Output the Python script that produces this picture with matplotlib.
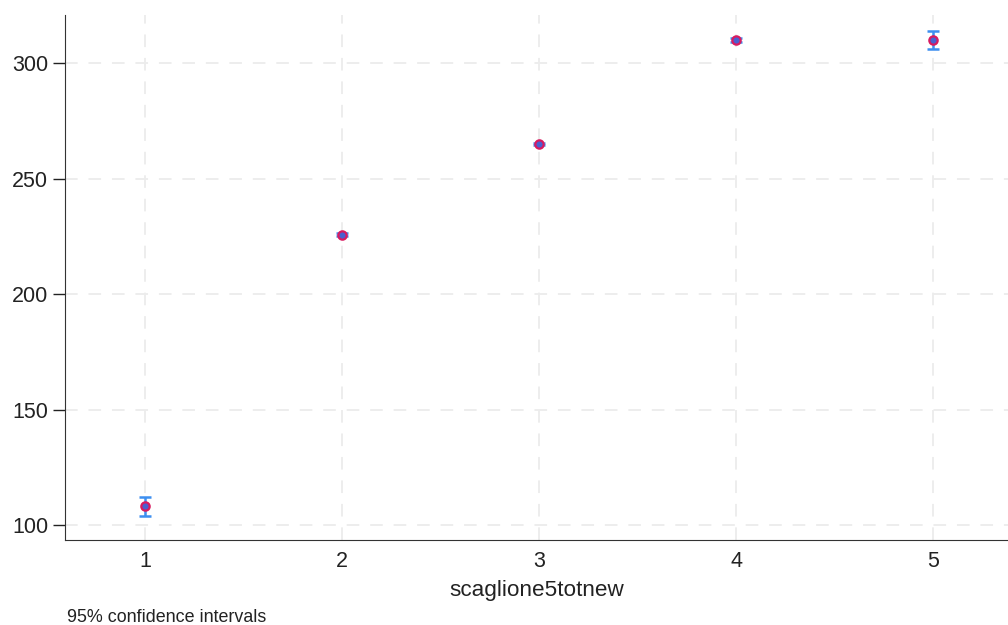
import matplotlib
matplotlib.use("Agg")
import numpy as np
from matplotlib import pyplot as plt

plt.rcParams['font.family'] = ['Liberation Sans', 'DejaVu Sans']

# predictive margins by group
groups = [1, 2, 3, 4, 5]
means = [108.2, 225.6, 264.9, 310.0, 310.0]
ci_low = [103.9, 225.0, 264.3, 309.0, 306.1]
ci_high = [112.3, 226.2, 265.5, 311.0, 313.9]

means = np.array(means)
err = np.vstack([means - np.array(ci_low), np.array(ci_high) - means])

fig = plt.figure(figsize=(10.08, 6.25), dpi=100)
ax = fig.add_axes([65 / 1008, (625 - 540) / 625, (1008 - 65) / 1008, (540 - 15) / 625])

ax.errorbar(groups, means, yerr=err, fmt='none', ecolor='#3d8ff0', elinewidth=1.8,
            capsize=4, capthick=1.8, zorder=3)
ax.plot(groups, means, 'o', markersize=6, markerfacecolor='#4a5fd0',
        markeredgecolor='#d81b60', markeredgewidth=1.6, zorder=4)

ax.set_xlim(0.594, 5.38)
ax.set_ylim(93.5, 320.8)
ax.set_xticks(groups)
ax.set_yticks([100, 150, 200, 250, 300])

ax.grid(True, linestyle=(0, (7, 6)), color='#ececec', linewidth=1.3)
ax.set_axisbelow(True)
for side in ['top', 'right']:
    ax.spines[side].set_visible(False)
ax.spines['left'].set_color('#333333')
ax.spines['bottom'].set_color('#333333')
ax.tick_params(axis='both', labelsize=15.5, colors='#222222', length=9, width=1, pad=3)
ax.tick_params(axis='x', length=0, pad=8)

ax.set_xlabel('scaglione5totnew', fontsize=16.2, color='#222222', labelpad=6)
fig.text(67 / 1008, 1 - 618 / 625, '95% confidence intervals', fontsize=12.9,
         color='#222222', va='center', ha='left')

fig.savefig('out.png', dpi=100)
